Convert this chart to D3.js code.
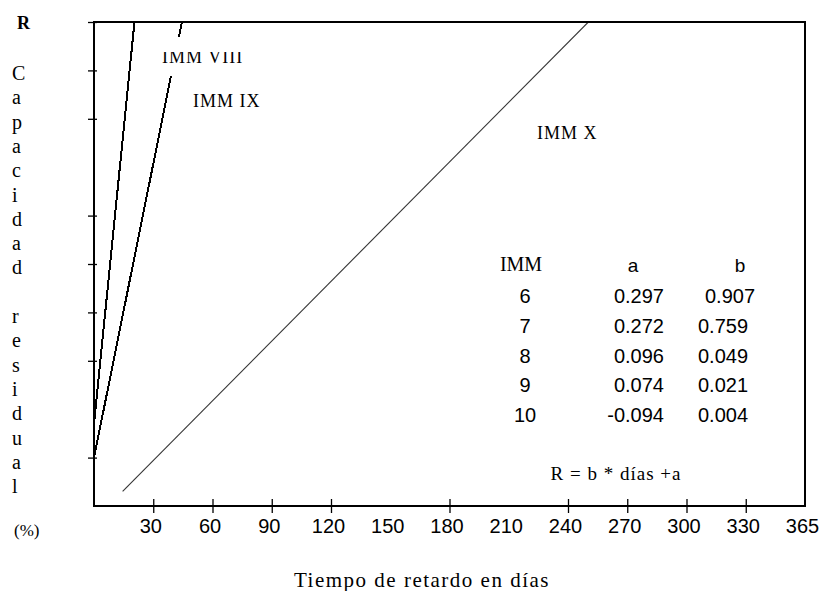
<!DOCTYPE html>
<html>
<head>
<meta charset="utf-8">
<script src="https://cdn.jsdelivr.net/npm/d3@7"></script>
<style>
  body { margin: 0; background: #fff; }
  svg { display: block; }
  .serif { font-family: "Liberation Serif", "Times New Roman", serif; fill: #000; }
  .sans { font-family: "Liberation Sans", Arial, sans-serif; fill: #000; }
</style>
</head>
<body>
<svg id="chart" width="822" height="591"></svg>
<script>
// x ticks (days), marks are missing at 150 and 210 in the original
const xTickMarks = [30, 60, 90, 120, 180, 240, 270, 300, 330];
const xLabelValues = [30, 60, 90, 120, 150, 180, 210, 240, 270, 300, 330, 360];
const xLabelText = ["30", "60", "90", "120", "150", "180", "210", "240", "270", "300", "330", "365"];
const yTickMarks = [0.1, 0.3, 0.4, 0.5, 0.6, 0.8, 0.9, 1.0];

// regression lines: [days, R]
const lineNames = ["IMM VIII", "IMM IX", "IMM X"];
const lineStart = [[0, 0.17], [0, 0.10], [14.5, 0.03]];
const lineEnd = [[20.5, 1.0], [44.5, 1.0], [250.3, 1.0]];

// coefficient table
const immRows = [6, 7, 8, 9, 10];
const coefA = [0.297, 0.272, 0.096, 0.074, -0.094];
const coefB = [0.907, 0.759, 0.049, 0.021, 0.004];

const yLetters = "Capacidad residual".split("");

const svg = d3.select("#chart");
const margin = { left: 94, top: 22, right: 17, bottom: 85 };
const W = 822, H = 591;

const x = d3.scaleLinear().domain([0, 360]).range([margin.left, W - margin.right]);
const y = d3.scaleLinear().domain([0, 1]).range([H - margin.bottom, margin.top]);

svg.append("defs").append("clipPath").attr("id", "plot")
  .append("rect")
  .attr("x", x(0)).attr("y", y(1))
  .attr("width", x(360) - x(0)).attr("height", y(0) - y(1));

svg.append("defs").append("clipPath").attr("id", "cutTop")
  .append("rect")
  .attr("x", 150).attr("y", 52).attr("width", 100).attr("height", 20);

// lines
const lines = svg.append("g").attr("clip-path", "url(#plot)");
lineNames.forEach((name, i) => {
  lines.append("line")
    .attr("x1", x(lineStart[i][0])).attr("y1", y(lineStart[i][1]))
    .attr("x2", x(lineEnd[i][0])).attr("y2", y(lineEnd[i][1]))
    .attr("stroke", i < 2 ? "#000" : "#333")
    .attr("stroke-width", i < 2 ? 2 : 1.1)
    .attr("shape-rendering", i < 2 ? "crispEdges" : "auto");
});

// white patch behind the IMM VIII label (it hides part of the IX line)
svg.append("rect")
  .attr("x", 156).attr("y", 37).attr("width", 90).attr("height", 39)
  .attr("fill", "#fff");

// frame
svg.append("rect")
  .attr("x", x(0)).attr("y", y(1))
  .attr("width", x(360) - x(0)).attr("height", y(0) - y(1))
  .attr("fill", "none").attr("stroke", "#000").attr("stroke-width", 2);

// x tick marks crossing the axis
const xAxis = svg.append("g")
  .attr("transform", `translate(0,${y(0)})`)
  .call(d3.axisBottom(x).tickValues(xTickMarks).tickSize(7).tickFormat(""));
xAxis.select(".domain").remove();
xAxis.selectAll(".tick line").attr("y1", -7).attr("stroke-width", 1.3);

// x tick labels
const xLab = svg.append("g")
  .attr("transform", `translate(0,${y(0)})`)
  .call(d3.axisBottom(x).tickValues(xLabelValues).tickSize(0)
    .tickFormat((d, i) => xLabelText[i]));
xLab.select(".domain").remove();
xLab.selectAll(".tick text")
  .attr("class", "sans")
  .attr("font-size", 20)
  .attr("x", -3)
  .attr("y", 27)
  .attr("dy", 0);

// y tick marks
const yAxis = svg.append("g")
  .attr("transform", `translate(${x(0)},0)`)
  .call(d3.axisLeft(y).tickValues(yTickMarks).tickSize(6).tickFormat(""));
yAxis.select(".domain").remove();
yAxis.selectAll(".tick line").attr("x1", 3).attr("stroke-width", 1.3);

// y title, stacked letters
svg.append("text").attr("class", "serif")
  .attr("x", 17).attr("y", 29)
  .attr("font-size", 18).attr("font-weight", "bold")
  .text("R");
svg.append("g").selectAll("text")
  .data(yLetters)
  .join("text")
  .attr("class", "serif")
  .attr("x", 12)
  .attr("y", (d, i) => 80 + i * 24.3)
  .attr("font-size", 20)
  .text(d => d);
svg.append("text").attr("class", "serif")
  .attr("x", 14).attr("y", 536)
  .attr("font-size", 17)
  .text("(%)");

// x title
svg.append("text").attr("class", "serif")
  .attr("x", 422).attr("y", 587)
  .attr("text-anchor", "middle")
  .attr("font-size", 21).attr("letter-spacing", 1.5)
  .text("Tiempo de retardo en días");

// line labels
const labelPos = [[162, 63], [193, 107], [537, 139]];
lineNames.forEach((name, i) => {
  svg.append("text").attr("class", "serif")
    .attr("x", labelPos[i][0]).attr("y", labelPos[i][1])
    .attr("font-size", 18).attr("letter-spacing", 1)
    .attr("clip-path", i === 0 ? "url(#cutTop)" : null)
    .text(name);
});

// table
const table = svg.append("g");
table.append("text").attr("class", "serif")
  .attr("x", 521).attr("y", 271).attr("text-anchor", "middle")
  .attr("font-size", 20).text("IMM");
table.append("text").attr("class", "sans")
  .attr("x", 633).attr("y", 272).attr("text-anchor", "middle")
  .attr("font-size", 19).text("a");
table.append("text").attr("class", "sans")
  .attr("x", 740).attr("y", 272).attr("text-anchor", "middle")
  .attr("font-size", 19).text("b");

// plain hyphen for negatives, as in the original
const fmt = d3.formatLocale({ decimal: ".", thousands: ",", grouping: [3], currency: ["", ""], minus: "-" }).format(".3f");
const rowY = i => 303 + i * 29.8;
table.selectAll(".imm").data(immRows).join("text")
  .attr("class", "sans imm")
  .attr("x", 525).attr("y", (d, i) => rowY(i))
  .attr("text-anchor", "middle").attr("font-size", 20)
  .text(d => d);
table.selectAll(".ca").data(coefA).join("text")
  .attr("class", "sans ca")
  .attr("x", 664).attr("y", (d, i) => rowY(i))
  .attr("text-anchor", "end").attr("font-size", 20)
  .text(d => fmt(d));
table.selectAll(".cb").data(coefB).join("text")
  .attr("class", "sans cb")
  .attr("x", (d, i) => i === 0 ? 730 : 723).attr("y", (d, i) => rowY(i))
  .attr("text-anchor", "middle").attr("font-size", 20)
  .text(d => fmt(d));

table.append("text").attr("class", "serif")
  .attr("x", 616).attr("y", 480).attr("text-anchor", "middle")
  .attr("font-size", 19).attr("letter-spacing", 1)
  .text("R = b * días +a");
</script>
</body>
</html>
